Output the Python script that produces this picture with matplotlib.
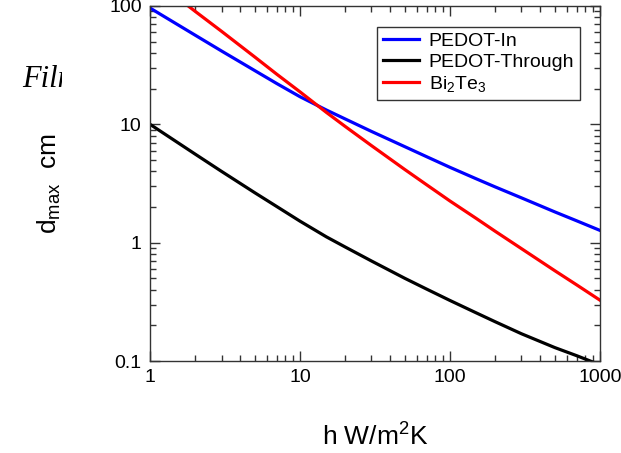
import matplotlib
matplotlib.use('Agg')
import matplotlib.pyplot as plt
from matplotlib.patches import Rectangle
from matplotlib.ticker import FixedLocator, FixedFormatter, LogLocator, NullFormatter

plt.rcParams['font.family'] = ['Liberation Sans', 'DejaVu Sans']
plt.rcParams['mathtext.fontset'] = 'custom'
plt.rcParams['mathtext.rm'] = 'Liberation Sans'
plt.rcParams['mathtext.it'] = 'Liberation Sans'

# values (h in W/m^2K, d_max in cm)
h = [1, 2, 3, 5, 7, 10, 15, 20, 30, 50, 70, 100, 150, 200, 300, 500, 700, 1000]
pedot_in = [96, 56.6, 41.6, 28.4, 22.1, 17.1, 13.2, 11.1, 8.7, 6.47, 5.32,
            4.33, 3.46, 2.96, 2.39, 1.82, 1.53, 1.27]
pedot_through = [10, 5.6, 4.0, 2.64, 2.02, 1.52, 1.12, 0.92, 0.70, 0.50, 0.405,
                 0.325, 0.255, 0.215, 0.17, 0.13, 0.111, 0.093]
bi2te3 = [178, 90, 61, 37, 26.5, 18.8, 12.6, 9.6, 6.6, 4.15, 3.08, 2.25, 1.6,
          1.25, 0.89, 0.58, 0.44, 0.327]

x_ticks = [1, 10, 100, 1000]
y_ticks = [0.1, 1, 10, 100]

fig = plt.figure(figsize=(6.21, 4.53), dpi=100)
ax = fig.add_axes([0.2415, 0.203, 0.7245, 0.784])

ax.plot(h, pedot_in, color='#0000ff', lw=2.3, label='PEDOT-In')
ax.plot(h, pedot_through, color='black', lw=2.3, label='PEDOT-Through')
ax.plot(h, bi2te3, color='#ff0000', lw=2.3, label='Bi$_2$Te$_3$')

ax.set_xscale('log')
ax.set_yscale('log')
ax.set_xlim(1, 1000)
ax.set_ylim(0.1, 100)

ax.xaxis.set_major_locator(FixedLocator(x_ticks))
ax.xaxis.set_major_formatter(FixedFormatter([str(v) for v in x_ticks]))
ax.yaxis.set_major_locator(FixedLocator(y_ticks))
ax.yaxis.set_major_formatter(FixedFormatter(['0.1', '1', '10', '100']))
for axis in (ax.xaxis, ax.yaxis):
    axis.set_minor_locator(LogLocator(base=10, subs=range(2, 10)))
    axis.set_minor_formatter(NullFormatter())

ax.tick_params(which='both', direction='in', top=True, right=True,
               labelsize=14, width=1, color='#333333')
ax.tick_params(which='major', length=7, pad=6)
ax.tick_params(which='minor', length=4)
for s in ax.spines.values():
    s.set_color('#333333')
    s.set_linewidth(1)

ax.set_xlabel('h W/m$^2$K', fontsize=19, labelpad=27)
ax.set_ylabel('d$_{max}$  cm', fontsize=19, labelpad=33)

leg = ax.legend(loc='upper right', bbox_to_anchor=(0.9556, 0.941),
                borderaxespad=0, fontsize=14, frameon=True, fancybox=False,
                handlelength=1.85, borderpad=0.3, labelspacing=0.15,
                handletextpad=0.5)
leg.get_frame().set_edgecolor('black')
leg.get_frame().set_linewidth(1)

# clipped italic text at top-left
t = fig.text(22 / 621, 1 - 87 / 453, 'Film', fontsize=22, style='italic',
             family='Liberation Serif', ha='left', va='baseline')
clip = Rectangle((0, 0), 62 / 621, 1, transform=fig.transFigure)
t.set_clip_path(clip)

fig.savefig('out.png', dpi=100)
